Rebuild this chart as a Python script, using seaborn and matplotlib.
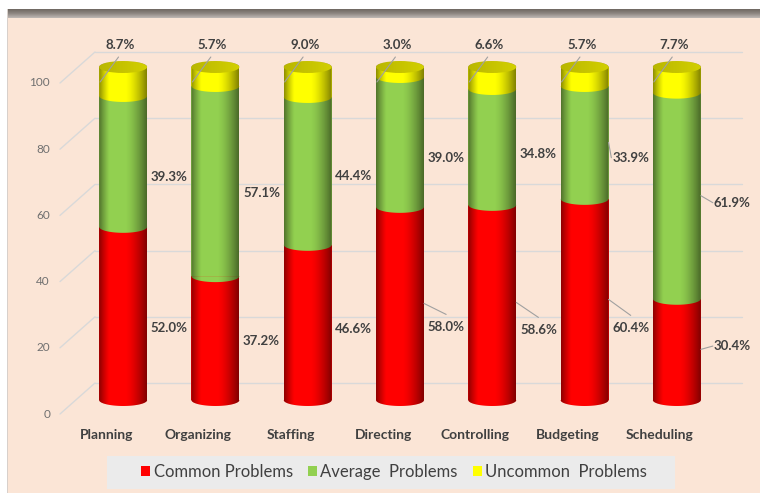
import numpy as np
import pandas as pd
import matplotlib
matplotlib.use('Agg')
import matplotlib.pyplot as plt
import seaborn as sns
from matplotlib.patches import Polygon, Ellipse, Rectangle, Patch
from matplotlib.transforms import blended_transform_factory, ScaledTranslation

# ---- data ----
categories = ['Planning', 'Organizing', 'Staffing', 'Directing', 'Controlling', 'Budgeting', 'Scheduling']
common = [52.0, 37.2, 46.6, 58.0, 58.6, 60.4, 30.4]
average = [39.3, 57.1, 44.4, 39.0, 34.8, 33.9, 61.9]
uncommon = [8.7, 5.7, 9.0, 3.0, 6.6, 5.7, 7.7]
series_names = ['Common Problems', 'Average  Problems', 'Uncommon  Problems']
yticks = [0, 20, 40, 60, 80, 100]

# label placement (data units, relative to segment middle) as laid out in the original
common_shift = [-4.4, -0.9, -2.0, -7.1, -8.3, -8.6, 1.0]
average_shift = [-4.6, -3.5, -1.5, -4.8, -2.0, -4.6, -2.1]
common_leader = [False, False, False, True, True, True, True]
average_leader = [False, False, False, False, False, True, True]
label_dx = [0.5, 0.5, 0.5, 0.5, 0.5, 0.5, 0.6]

# ---- style ----
RED, GREEN, YELLOW = '#FF0000', '#92D050', '#FFFF00'
CAP = '#D2CF00'
PEACH = '#FBE5D6'
TXT = '#404040'
GRID = '#D9D9D9'
LEAD = '#A0A0A0'
W, H = 760, 493
BAR_W = 0.52
ELL_H = 3.6
DEPTH_X, DEPTH_Y = 35, 31   # 3D depth offset of the back wall in pixels
Y0_PX, UNIT_PX = 400, 3.33  # where value 0 sits on the bar plane, pixels per unit
YLIM = (-6, 112)

sns.set_style('white')
plt.rcParams['font.family'] = ['Lato', 'DejaVu Sans']


def fig_rect(left, top, right, bottom):
    """pixel box (from top-left) -> figure fraction [l, b, w, h]"""
    return [left / W, (H - bottom) / H, (right - left) / W, (bottom - top) / H]


def half_ellipse(xc, yc, w, h, lower=True, n=60):
    th = np.linspace(np.pi, 2 * np.pi, n) if lower else np.linspace(0, np.pi, n)
    return np.column_stack([xc + w / 2 * np.cos(th), yc + h / 2 * np.sin(th)])


df = pd.DataFrame({'category': categories, 'common': common,
                   'average': average, 'uncommon': uncommon})
df['top_common'] = df['common']
df['top_average'] = df['common'] + df['average']
df['top_uncommon'] = df['top_average'] + df['uncommon']

fig = plt.figure(figsize=(W / 100, H / 100), dpi=100, facecolor='white')

# frame: peach panel and grey gradient strip on top
fig.patches.append(Rectangle((8 / W, 0), 1, (H - 17) / H, transform=fig.transFigure,
                             facecolor=PEACH, edgecolor='none', zorder=-2))
fig.patches.append(Rectangle((7 / W, 0), 1 / W, (H - 9) / H, transform=fig.transFigure,
                             facecolor='#D8D0CB', edgecolor='none', zorder=-2))
ax_top = fig.add_axes(fig_rect(8, 9, W, 18))
grad = np.linspace(0, 1, 20)[:, None]
ax_top.imshow(grad, cmap=matplotlib.colors.LinearSegmentedColormap.from_list(
    'strip', ['#6F6862', '#8E8782', '#BDB7B3']), aspect='auto', extent=[0, 1, 0, 1])
ax_top.axis('off')

# back wall with gridlines and diagonal floor lines to tick labels
ax_back = fig.add_axes(fig_rect(95, 52, 742, 383))
ax_back.set_xlim(0, 1)
ax_back.set_ylim(0, 100)
ax_back.axis('off')
back_px_x = 742 - 95
unit_px = 331 / 100
btr = blended_transform_factory(ax_back.transAxes, ax_back.transData)
dx_ax = DEPTH_X / back_px_x
dy_dat = DEPTH_Y / unit_px
for v in yticks:
    ax_back.plot([0, 1], [v, v], color=GRID, lw=1.0, transform=btr, clip_on=False)
    ax_back.plot([-dx_ax, 0], [v - dy_dat, v], color=GRID, lw=1.0, transform=btr, clip_on=False)
    ax_back.text(-dx_ax - 10 / back_px_x, v - dy_dat, str(v), transform=btr,
                 ha='right', va='center', fontsize=8.5, color='#707070')

# bars
ax_top_px = Y0_PX - YLIM[1] * UNIT_PX
ax_bot_px = Y0_PX - YLIM[0] * UNIT_PX
ax = fig.add_axes(fig_rect(77, ax_top_px, 723, ax_bot_px))
ax.patch.set_alpha(0)
for col, color in [('top_uncommon', YELLOW), ('top_average', GREEN), ('top_common', RED)]:
    sns.barplot(data=df, x='category', y=col, color=color, width=BAR_W, saturation=1,
                errorbar=None, linewidth=0, zorder=2, ax=ax)

t = np.linspace(0, 1, 200)
shade = (0.45 * np.clip((0.22 - t) / 0.22, 0, 1) ** 1.2
         + 0.50 * np.clip((t - 0.55) / 0.45, 0, 1) ** 1.5)
rgba = np.zeros((1, 200, 4))
rgba[..., 3] = shade
cap_rgba = np.zeros((1, 200, 4))
cap_rgba[..., 3] = 0.12 * (1 - t)

for i in range(len(categories)):
    c, a, u = common[i], average[i], uncommon[i]
    top = c + a + u
    # curved boundaries at the bottom of each segment
    for bottom, color in [(0, RED), (c, GREEN), (c + a, YELLOW)]:
        ax.add_patch(Polygon(half_ellipse(i, bottom, BAR_W, ELL_H), closed=True,
                             facecolor=color, edgecolor='none', zorder=3))
    # cylinder outline used to clip the shading
    left_edge = np.array([[i - BAR_W / 2, top], [i - BAR_W / 2, 0]])
    outline_pts = np.vstack([left_edge, half_ellipse(i, 0, BAR_W, ELL_H),
                             [[i + BAR_W / 2, top]], half_ellipse(i, top, BAR_W, ELL_H, lower=False)])
    outline = Polygon(outline_pts, closed=True, facecolor='none', edgecolor='none')
    ax.add_patch(outline)
    im = ax.imshow(rgba, extent=[i - BAR_W / 2, i + BAR_W / 2, -ELL_H, top + ELL_H],
                   aspect='auto', interpolation='bilinear', zorder=4)
    im.set_clip_path(outline)
    cap = Ellipse((i, top), BAR_W, ELL_H, facecolor=CAP, edgecolor='none', zorder=5)
    ax.add_patch(cap)
    im2 = ax.imshow(cap_rgba, extent=[i - BAR_W / 2, i + BAR_W / 2, top - ELL_H, top + ELL_H],
                    aspect='auto', interpolation='bilinear', zorder=5.5)
    im2.set_clip_path(cap)

    # labels
    lab = dict(ha='center', va='center', fontsize=9.5, fontweight='bold', color=TXT,
               zorder=7, clip_on=False)
    ax.text(i - 0.03, 106.5, f'{u:.1f}%', **lab)
    ax.plot([i - 0.05, i - 0.25], [103, 95.5], color=LEAD, lw=0.8, zorder=6, clip_on=False)

    for mid, shift, leader, val in [(c / 2, common_shift[i], common_leader[i], c),
                                    (c + a / 2, average_shift[i], average_leader[i], a)]:
        ly = mid + shift
        lx = i + label_dx[i]
        ax.text(lx, ly, f'{val:.1f}%', **lab)
        if leader:
            if mid - ly > 5:
                end = (lx, ly + 3.8)
            else:
                end = (lx - 0.21, ly)
            ax.plot([i + BAR_W / 2, end[0]], [mid, end[1]], color=LEAD, lw=0.8, zorder=6)

ax.set_xlim(-0.5, len(categories) - 0.5)
ax.set_ylim(*YLIM)
ax.set_xlabel('')
ax.set_ylabel('')
ax.set_yticks([])
ax.set_xticks(range(len(categories)))
ax.set_xticklabels(categories, fontsize=10, fontweight='bold', color=TXT)
ax.tick_params(axis='x', length=0, pad=6.5)
for tl in ax.get_xticklabels():
    tl.set_transform(tl.get_transform() + ScaledTranslation(-17 / 100, 0, fig.dpi_scale_trans))
sns.despine(ax=ax, left=True, bottom=True)

# legend on a grey strip
fig.patches.append(Rectangle((107 / W, (H - 489) / H), 568 / W, 33 / H, transform=fig.transFigure,
                             facecolor='#EBEBEB', edgecolor='none', zorder=-1))
handles = [Patch(facecolor=col, edgecolor='none') for col in [RED, GREEN, YELLOW]]
fig.legend(handles, series_names, loc='center', bbox_to_anchor=(394 / W, (H - 472) / H),
           ncol=3, frameon=False, fontsize=12, handlelength=0.55, handleheight=0.55,
           handletextpad=0.2, columnspacing=0.9, labelcolor=TXT)

fig.savefig('out.png', dpi=100, facecolor=fig.get_facecolor())
